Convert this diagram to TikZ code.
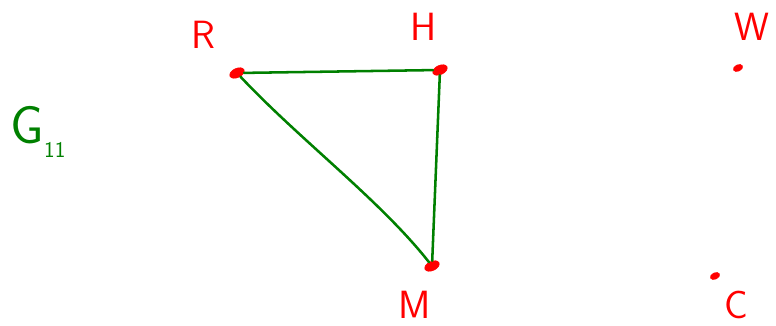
\documentclass[tikz,border=0pt]{standalone}
\usepackage{tikz}
\usetikzlibrary{positioning, shapes.geometric}

\begin{document}
\begin{tikzpicture}[
    x=0.025cm, y=-0.025cm,
    vtx/.style={
        ellipse, draw=red, fill=red, inner sep=0pt,
        minimum width=11pt, minimum height=6.5pt, rotate=25
    },
    smallvtx/.style={
        ellipse, draw=red, fill=red, inner sep=0pt,
        minimum width=7pt, minimum height=4.5pt, rotate=25
    },
    lbl/.style={text=red, inner sep=1pt, font=\sffamily\fontsize{28}{32}\selectfont},
    link/.style={draw=green!50!black, line width=1.8pt, line cap=round}
]
\useasboundingbox (0,0) rectangle (776,326);

\node[vtx]      (r) at (237, 73) {};
\node[vtx]      (h) at (440, 70) {};
\node[smallvtx] (w) at (738, 68) {};
\node[vtx]      (m) at (432,266) {};
\node[smallvtx] (c) at (715,276) {};

\node[lbl] (rl) at (203, 35) {R};
\node[lbl] (hl) at (424, 27) {H};
\node[lbl] (wl) at (752, 27) {W};
\node[lbl] (ml) at (415,305) {M};
\node[lbl] (cl) at (736,305) {C};

\node[text=green!50!black, font=\sffamily\fontsize{38}{42}\selectfont] (g) at (38,132)
    {G\raisebox{-10pt}{\fontsize{16}{18}\selectfont 11}};

\draw[link] (r) -- (h);
\draw[link] (h) -- (m);
\draw[link] (r) .. controls (300,140) and (380,200) .. (m);

\end{tikzpicture}
\end{document}
